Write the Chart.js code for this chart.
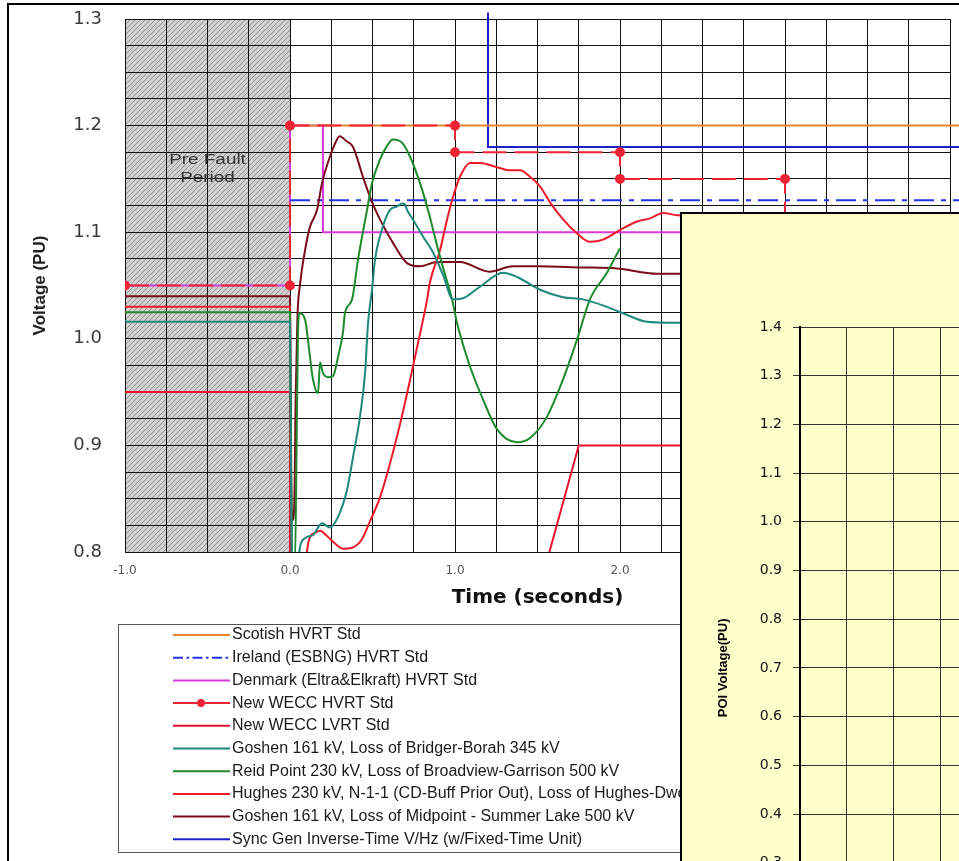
<!DOCTYPE html>
<html>
<head>
<meta charset="utf-8">
<title>HVRT / LVRT voltage traces</title>
<script src="https://cdn.jsdelivr.net/npm/chart.js@4.4.1/dist/chart.umd.min.js"></script>
<style>
  html, body { margin: 0; padding: 0; background: #fff; overflow: hidden; width: 959px; height: 861px; }
  #frame { position: absolute; left: 7px; top: 3px; width: 1000px; height: 1000px; border-left: 2px solid #000; border-top: 2px solid #000; }
  #mainChart { position: absolute; left: 0; top: 0; width: 960px; height: 861px; }
  #inset { position: absolute; left: 680px; top: 212px; width: 500px; height: 860px; background: #ffffcc; border: 2px solid #000; }
  #insetChart { position: absolute; left: 0; top: 0; width: 500px; height: 860px; }
</style>
</head>
<body>
<div id="frame"></div>
<canvas id="mainChart" width="960" height="861"></canvas>
<div id="inset"><canvas id="insetChart" width="500" height="860"></canvas></div>
<script>
// time axis (seconds) and voltage axis (PU)
const X_RANGE = [-1, 4];
const Y_RANGE = [0.8, 1.3];
const preFaultRange = [-1, 0];
const preFaultText = ["Pre Fault", "Period"];
const preFaultTextY = [1.168, 1.151];

// standards
const scotishT = [0, 4.06];
const scotishV = [1.2, 1.2];
const irelandT = [0, 4.06];
const irelandV = [1.13, 1.13];
const denmarkT = [-1, 0, 0, 0.2, 0.2, 4];
const denmarkV = [1.05, 1.05, 1.2, 1.2, 1.1, 1.1];
const weccHvrtT = [-1, 0, 0, 1, 1, 2, 2, 3, 3, 4];
const weccHvrtV = [1.05, 1.05, 1.2, 1.2, 1.175, 1.175, 1.15, 1.15, 1.1, 1.1];
const weccLvrtT = [-1, 0, 0, 0.15, 1.75, 4];
const weccLvrtV = [0.95, 0.95, 0, 0, 0.9, 0.9];
const syncGenT = [1.2, 1.2, 4.06];
const syncGenV = [1.306, 1.18, 1.18];

// simulated bus voltages
const goshenBridgerT = [-1, 0, 0.01, 0.04, 0.061, 0.091, 0.14, 0.194, 0.242, 0.291, 0.345, 0.382, 0.424, 0.455, 0.473, 0.497, 0.515, 0.545, 0.606, 0.648, 0.68, 0.697, 0.709, 0.745, 0.806, 0.867, 0.927, 0.988, 1.048, 1.152, 1.291, 1.376, 1.515, 1.655, 1.776, 1.921, 2.018, 2.164, 2.352, 2.6];
const goshenBridgerV = [1.016, 1.016, 0.79, 0.78, 0.805, 0.813, 0.816, 0.827, 0.823, 0.833, 0.858, 0.889, 0.927, 0.968, 1.015, 1.046, 1.074, 1.096, 1.121, 1.124, 1.127, 1.126, 1.121, 1.112, 1.096, 1.081, 1.06, 1.037, 1.038, 1.049, 1.062, 1.058, 1.046, 1.039, 1.037, 1.03, 1.024, 1.016, 1.015, 1.014];

const reidPointT = [-1, 0, 0.005, 0.015, 0.03, 0.04, 0.048, 0.055, 0.091, 0.121, 0.139, 0.17, 0.182, 0.2, 0.23, 0.261, 0.291, 0.321, 0.333, 0.376, 0.412, 0.467, 0.497, 0.545, 0.588, 0.624, 0.679, 0.727, 0.788, 0.836, 0.897, 0.927, 0.982, 1.012, 1.091, 1.17, 1.255, 1.376, 1.455, 1.558, 1.655, 1.739, 1.818, 1.921, 2.0];
const reidPointV = [1.025, 1.025, 0.9, 0.79, 0.79, 0.9, 1.0, 1.024, 1.018, 0.983, 0.962, 0.949, 0.978, 0.968, 0.964, 0.965, 0.983, 1.006, 1.024, 1.037, 1.074, 1.121, 1.146, 1.168, 1.181, 1.187, 1.184, 1.171, 1.146, 1.121, 1.084, 1.067, 1.037, 1.015, 0.974, 0.943, 0.915, 0.903, 0.907, 0.927, 0.962, 0.999, 1.037, 1.062, 1.085];

const hughesT = [-1, 0, 0.008, 0.02, 0.09, 0.103, 0.121, 0.152, 0.182, 0.224, 0.273, 0.321, 0.376, 0.436, 0.485, 0.545, 0.606, 0.667, 0.727, 0.77, 0.83, 0.848, 0.909, 0.952, 0.988, 1.03, 1.091, 1.152, 1.255, 1.333, 1.394, 1.455, 1.515, 1.576, 1.655, 1.739, 1.818, 1.897, 2.0, 2.103, 2.182, 2.261, 2.345, 2.6];
const hughesV = [1.03, 1.03, 0.8, 0.76, 0.77, 0.8, 0.814, 0.818, 0.82, 0.815, 0.808, 0.803, 0.804, 0.812, 0.829, 0.851, 0.883, 0.92, 0.961, 0.992, 1.036, 1.053, 1.083, 1.112, 1.133, 1.152, 1.165, 1.165, 1.161, 1.158, 1.158, 1.152, 1.143, 1.128, 1.112, 1.099, 1.091, 1.093, 1.102, 1.11, 1.113, 1.118, 1.116, 1.115];

const goshenMidpointT = [-1, 0, 0.008, 0.015, 0.025, 0.035, 0.045, 0.06, 0.091, 0.121, 0.164, 0.194, 0.242, 0.285, 0.3, 0.345, 0.382, 0.442, 0.485, 0.545, 0.624, 0.709, 0.788, 0.891, 1.03, 1.21, 1.35, 1.497, 1.758, 1.982, 2.224, 2.6];
const goshenMidpointV = [1.04, 1.04, 0.86, 0.83, 0.84, 0.95, 1.02, 1.05, 1.083, 1.105, 1.121, 1.146, 1.171, 1.187, 1.19, 1.185, 1.18, 1.152, 1.133, 1.112, 1.09, 1.071, 1.068, 1.072, 1.072, 1.063, 1.068, 1.068, 1.067, 1.066, 1.061, 1.061];

// inset chart axis
const INSET_Y_RANGE = [0, 1.4];
const INSET_X_RANGE = [0, 8];

const colors = {
  scotish: "#e6842f",
  ireland: "#2233e6",
  denmark: "#d83cd8",
  weccHvrt: "#ee2436",
  weccLvrt: "#ee1030",
  teal: "#1d887e",
  green: "#1f8a2c",
  hughes: "#ee1a2a",
  maroon: "#7a0c1c",
  syncGen: "#1e22c4",
  grid: "#111",
};

function toPoints(times, volts) {
  return times.map((t, i) => ({ x: t, y: volts[i] }));
}

function isStep(value, step) {
  const n = value / step;
  return Math.abs(n - Math.round(n)) < 1e-6;
}

function makeHatch(ctx) {
  const tile = document.createElement("canvas");
  tile.width = 5;
  tile.height = 5;
  const t = tile.getContext("2d");
  t.fillStyle = "#d0d0d0";
  t.fillRect(0, 0, 5, 5);
  t.strokeStyle = "#949494";
  t.lineWidth = 1;
  t.beginPath();
  t.moveTo(-1, 6); t.lineTo(6, -1);
  t.moveTo(-1, 1); t.lineTo(1, -1);
  t.moveTo(4, 6); t.lineTo(6, 4);
  t.stroke();
  return ctx.createPattern(tile, "repeat");
}

const lineDefaults = { borderWidth: 2, pointRadius: 0, fill: false, tension: 0 };
const curveDefaults = { ...lineDefaults, cubicInterpolationMode: "monotone", order: 0 };

const datasets = [
  { ...lineDefaults, label: "Scotish HVRT Std", data: toPoints(scotishT, scotishV), borderColor: colors.scotish, order: 2, clip: { left: 2, top: 2, right: 12, bottom: 2 } },
  { ...lineDefaults, label: "Ireland (ESBNG) HVRT Std", data: toPoints(irelandT, irelandV), borderColor: colors.ireland, borderDash: [20, 7, 5, 7], order: 2, clip: { left: 2, top: 2, right: 12, bottom: 2 } },
  { ...lineDefaults, label: "Denmark (Eltra&Elkraft) HVRT Std", data: toPoints(denmarkT, denmarkV), borderColor: colors.denmark, order: 2 },
  { ...lineDefaults, label: "New WECC HVRT Std", data: toPoints(weccHvrtT, weccHvrtV), borderColor: colors.weccHvrt, borderDash: [24, 8], pointRadius: 4, pointBackgroundColor: colors.weccHvrt, pointBorderColor: colors.weccHvrt, order: 1 },
  { ...lineDefaults, label: "New WECC LVRT Std", data: toPoints(weccLvrtT, weccLvrtV), borderColor: colors.weccLvrt, order: 1 },
  { ...curveDefaults, label: "Goshen 161 kV, Loss of Bridger-Borah 345 kV", data: toPoints(goshenBridgerT, goshenBridgerV), borderColor: colors.teal },
  { ...curveDefaults, label: "Reid Point 230 kV, Loss of Broadview-Garrison 500 kV", data: toPoints(reidPointT, reidPointV), borderColor: colors.green },
  { ...curveDefaults, label: "Hughes 230 kV, N-1-1 (CD-Buff Prior Out), Loss of Hughes-Dworshak 500 kV", data: toPoints(hughesT, hughesV), borderColor: colors.hughes },
  { ...curveDefaults, label: "Goshen 161 kV, Loss of Midpoint - Summer Lake 500 kV", data: toPoints(goshenMidpointT, goshenMidpointV), borderColor: colors.maroon },
  { ...lineDefaults, label: "Sync Gen Inverse-Time V/Hz (w/Fixed-Time Unit)", data: toPoints(syncGenT, syncGenV), borderColor: colors.syncGen, order: 2, clip: { left: 2, top: 8, right: 12, bottom: 2 } },
];

const decorPlugin = {
  id: "decor",
  beforeDraw(chart) {
    const { ctx, chartArea, scales } = chart;
    const x0 = scales.x.getPixelForValue(preFaultRange[0]);
    const x1 = scales.x.getPixelForValue(preFaultRange[1]);
    ctx.save();
    ctx.fillStyle = makeHatch(ctx);
    ctx.fillRect(x0, chartArea.top, x1 - x0, chartArea.bottom - chartArea.top);
    ctx.restore();
  },
  beforeDatasetsDraw(chart) {
    const { ctx, scales } = chart;
    const cx = scales.x.getPixelForValue((preFaultRange[0] + preFaultRange[1]) / 2);
    ctx.save();
    ctx.fillStyle = "#333";
    ctx.font = "14px 'Liberation Sans', Arial, sans-serif";
    ctx.textAlign = "center";
    ctx.textBaseline = "middle";
    preFaultText.forEach((txt, i) => {
      ctx.save();
      ctx.translate(cx, scales.y.getPixelForValue(preFaultTextY[i]));
      ctx.scale(1.35, 1);
      ctx.fillText(txt, 0, 0);
      ctx.restore();
    });
    ctx.restore();
  },
  afterDraw(chart) {
    // legend box under the plot
    const { ctx } = chart;
    ctx.save();
    ctx.strokeStyle = "#555";
    ctx.lineWidth = 1;
    ctx.strokeRect(118.5, 624.5, 640, 228);
    ctx.font = "16px 'Liberation Sans', Arial, sans-serif";
    ctx.textBaseline = "middle";
    chart.data.datasets.forEach((ds, i) => {
      const y = 635 + i * 22.7;
      const dash = ds.borderDash && !ds.pointRadius ? ds.borderDash.map((d) => d / 2) : [];
      ctx.strokeStyle = ds.borderColor;
      ctx.lineWidth = 2;
      ctx.setLineDash(dash);
      ctx.beginPath();
      ctx.moveTo(173, y);
      ctx.lineTo(230, y);
      ctx.stroke();
      ctx.setLineDash([]);
      if (ds.pointRadius) {
        ctx.fillStyle = ds.pointBackgroundColor;
        ctx.beginPath();
        ctx.arc(201, y, 4, 0, Math.PI * 2);
        ctx.fill();
      }
      ctx.fillStyle = "#1a1a1a";
      ctx.fillText(ds.label, 232, y);
    });
    ctx.restore();
  },
};

function createMainChart() {
  const ctx = document.getElementById("mainChart");
  return new Chart(ctx, {
    type: "line",
    data: { datasets: datasets },
    plugins: [decorPlugin],
    options: {
      responsive: false,
      animation: false,
      layout: { padding: { left: 0, top: 19, right: 10, bottom: 239 } },
      plugins: { legend: { display: false }, tooltip: { enabled: false } },
      scales: {
        x: {
          type: "linear",
          min: X_RANGE[0],
          max: X_RANGE[1],
          ticks: {
            stepSize: 0.25,
            autoSkip: false,
            maxTicksLimit: 100,
            maxRotation: 0,
            padding: 12,
            color: "#555",
            font: { family: "DejaVu Sans", size: 12 },
            callback: (v) => (isStep(v, 1) ? v.toFixed(1) : ""),
          },
          grid: { color: colors.grid, lineWidth: 1, drawTicks: false },
          border: { color: colors.grid, width: 1 },
          title: {
            display: true,
            text: "Time (seconds)",
            color: "#111",
            font: { family: "DejaVu Sans", size: 20, weight: "bold" },
            padding: { top: 0, bottom: 12 },
          },
          afterFit: (s) => { s.height = 70; s.paddingLeft = 0; s.paddingRight = 0; },
        },
        y: {
          type: "linear",
          min: Y_RANGE[0],
          max: Y_RANGE[1],
          ticks: {
            stepSize: 0.025,
            autoSkip: false,
            maxTicksLimit: 100,
            padding: 23,
            color: "#3a3a3a",
            font: { family: "DejaVu Sans", size: 18 },
            callback: (v) => (isStep(v, 0.1) ? v.toFixed(1) : ""),
          },
          grid: { color: colors.grid, lineWidth: 1, drawTicks: false },
          border: { color: colors.grid, width: 1 },
          title: {
            display: true,
            text: "Voltage (PU)",
            color: "#222",
            font: { family: "Liberation Sans", size: 17, weight: "bold" },
            padding: { top: 30, bottom: 0 },
          },
          afterFit: (s) => { s.width = 125; s.paddingTop = 0; s.paddingBottom = 0; },
        },
      },
    },
  });
}

function createInsetChart() {
  const ctx = document.getElementById("insetChart");
  return new Chart(ctx, {
    type: "line",
    data: { datasets: [{ label: "POI Voltage", data: [], borderColor: "#000", borderWidth: 2, pointRadius: 0 }] },
    options: {
      responsive: false,
      animation: false,
      layout: { padding: { left: 0, top: 113, right: 8.4, bottom: 25.2 } },
      plugins: { legend: { display: false }, tooltip: { enabled: false } },
      scales: {
        x: {
          type: "linear",
          min: INSET_X_RANGE[0],
          max: INSET_X_RANGE[1],
          ticks: { stepSize: 1, color: "#111", font: { family: "DejaVu Sans", size: 14 } },
          grid: { color: "#333", lineWidth: 1, tickLength: 7 },
          border: { color: "#000", width: 2 },
          afterFit: (s) => { s.height = 40; s.paddingLeft = 0; s.paddingRight = 0; },
        },
        y: {
          type: "linear",
          min: INSET_Y_RANGE[0],
          max: INSET_Y_RANGE[1],
          ticks: {
            stepSize: 0.1,
            autoSkip: false,
            padding: 11,
            color: "#111",
            font: { family: "DejaVu Sans", size: 14 },
            callback: (v) => v.toFixed(1),
          },
          grid: { color: "#333", lineWidth: 1, tickLength: 7 },
          border: { color: "#000", width: 2 },
          title: {
            display: true,
            text: "POI Voltage(PU)",
            color: "#000",
            font: { family: "Liberation Sans", size: 13, weight: "bold" },
            padding: { top: 34, bottom: 0 },
          },
          afterFit: (s) => { s.width = 118; s.paddingTop = 0; s.paddingBottom = 0; },
        },
      },
    },
  });
}

function init() {
  createMainChart();
  createInsetChart();
}

if (document.readyState === "loading") {
  document.addEventListener("DOMContentLoaded", init);
} else {
  init();
}
</script>
</body>
</html>
